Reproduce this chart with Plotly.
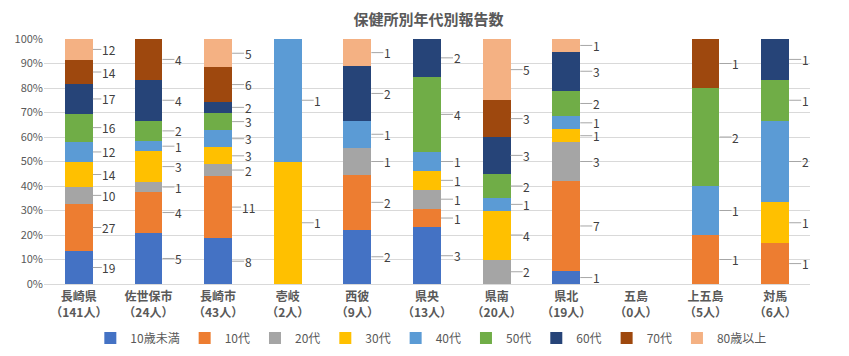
import plotly.graph_objects as go

categories = ["長崎県<br>（141人）", "佐世保市<br>（24人）", "長崎市<br>（43人）", "壱岐<br>（2人）",
              "西彼<br>（9人）", "県央<br>（13人）", "県南<br>（20人）", "県北<br>（19人）",
              "五島<br>（0人）", "上五島<br>（5人）", "対馬<br>（6人）"]
series_names = ["10歳未満", "10代", "20代", "30代", "40代", "50代", "60代", "70代", "80歳以上"]
u10   = [19, 5, 8, 0, 2, 3, 0, 1, 0, 0, 0]
s10   = [27, 4, 11, 0, 2, 1, 0, 7, 0, 1, 1]
s20   = [10, 1, 2, 0, 1, 1, 2, 3, 0, 0, 0]
s30   = [14, 3, 3, 1, 0, 1, 4, 1, 0, 0, 1]
s40   = [12, 1, 3, 1, 1, 1, 1, 1, 0, 1, 2]
s50   = [16, 2, 3, 0, 0, 4, 2, 2, 0, 2, 1]
s60   = [17, 4, 2, 0, 2, 2, 3, 3, 0, 0, 1]
s70   = [14, 4, 6, 0, 0, 0, 3, 0, 0, 1, 0]
o80   = [12, 0, 5, 0, 1, 0, 5, 1, 0, 0, 0]
values = [u10, s10, s20, s30, s40, s50, s60, s70, o80]
colors = ["#4472C4", "#ED7D31", "#A5A5A5", "#FFC000", "#5B9BD5", "#70AD47", "#264478", "#9E480E", "#F4B183"]

FONT = "Noto Sans CJK JP"
fig = go.Figure()
for name, vals, c in zip(series_names, values, colors):
    fig.add_trace(go.Bar(x=categories, y=vals, name=name, marker=dict(color=c, line=dict(width=0))))

totals = [sum(v[i] for v in values) for i in range(len(categories))]
annotations = []
for i, cat in enumerate(categories):
    if totals[i] == 0:
        continue
    cum = 0
    for vals in values:
        v = vals[i]
        if v > 0:
            mid = (cum + v / 2) / totals[i] * 100
            annotations.append(dict(x=cat, y=mid, xref="x", yref="y", text=str(v),
                                    showarrow=True, arrowhead=0, arrowwidth=1, arrowcolor="#A6A6A6",
                                    ax=30, ay=0, standoff=14, borderpad=0,
                                    font=dict(size=12, color="#404040", family=FONT)))
        cum += v

fig.update_layout(
    barmode="stack", barnorm="percent", bargap=0.6,
    width=841, height=348,
    margin=dict(l=36, r=39, t=31, b=72, autoexpand=False),
    paper_bgcolor="white", plot_bgcolor="white",
    font=dict(family=FONT, color="#595959", size=11),
    title=dict(text="<b>保健所別年代別報告数</b>", x=0.5, xanchor="center", y=0.966, yanchor="middle",
               font=dict(size=15, color="#595959", family=FONT)),
    legend=dict(orientation="h", x=0.505, xanchor="center", yref="container", y=0.052, yanchor="middle",
                font=dict(size=12, color="#595959", family=FONT), traceorder="normal",
                itemwidth=30, tracegroupgap=0),
    annotations=annotations,
)
fig.update_yaxes(range=[0, 100], dtick=10, ticksuffix="%", showgrid=True, gridcolor="#D9D9D9",
                 zeroline=False, tickfont=dict(size=11, color="#595959"), showline=False, automargin=False)
fig.update_xaxes(tickfont=dict(size=12, color="#595959", family=FONT), showline=True, linecolor="#D9D9D9",
                 tickprefix="<b>", ticksuffix="</b>", automargin=False, ticklabelstandoff=2)
fig.write_html("out.html")
